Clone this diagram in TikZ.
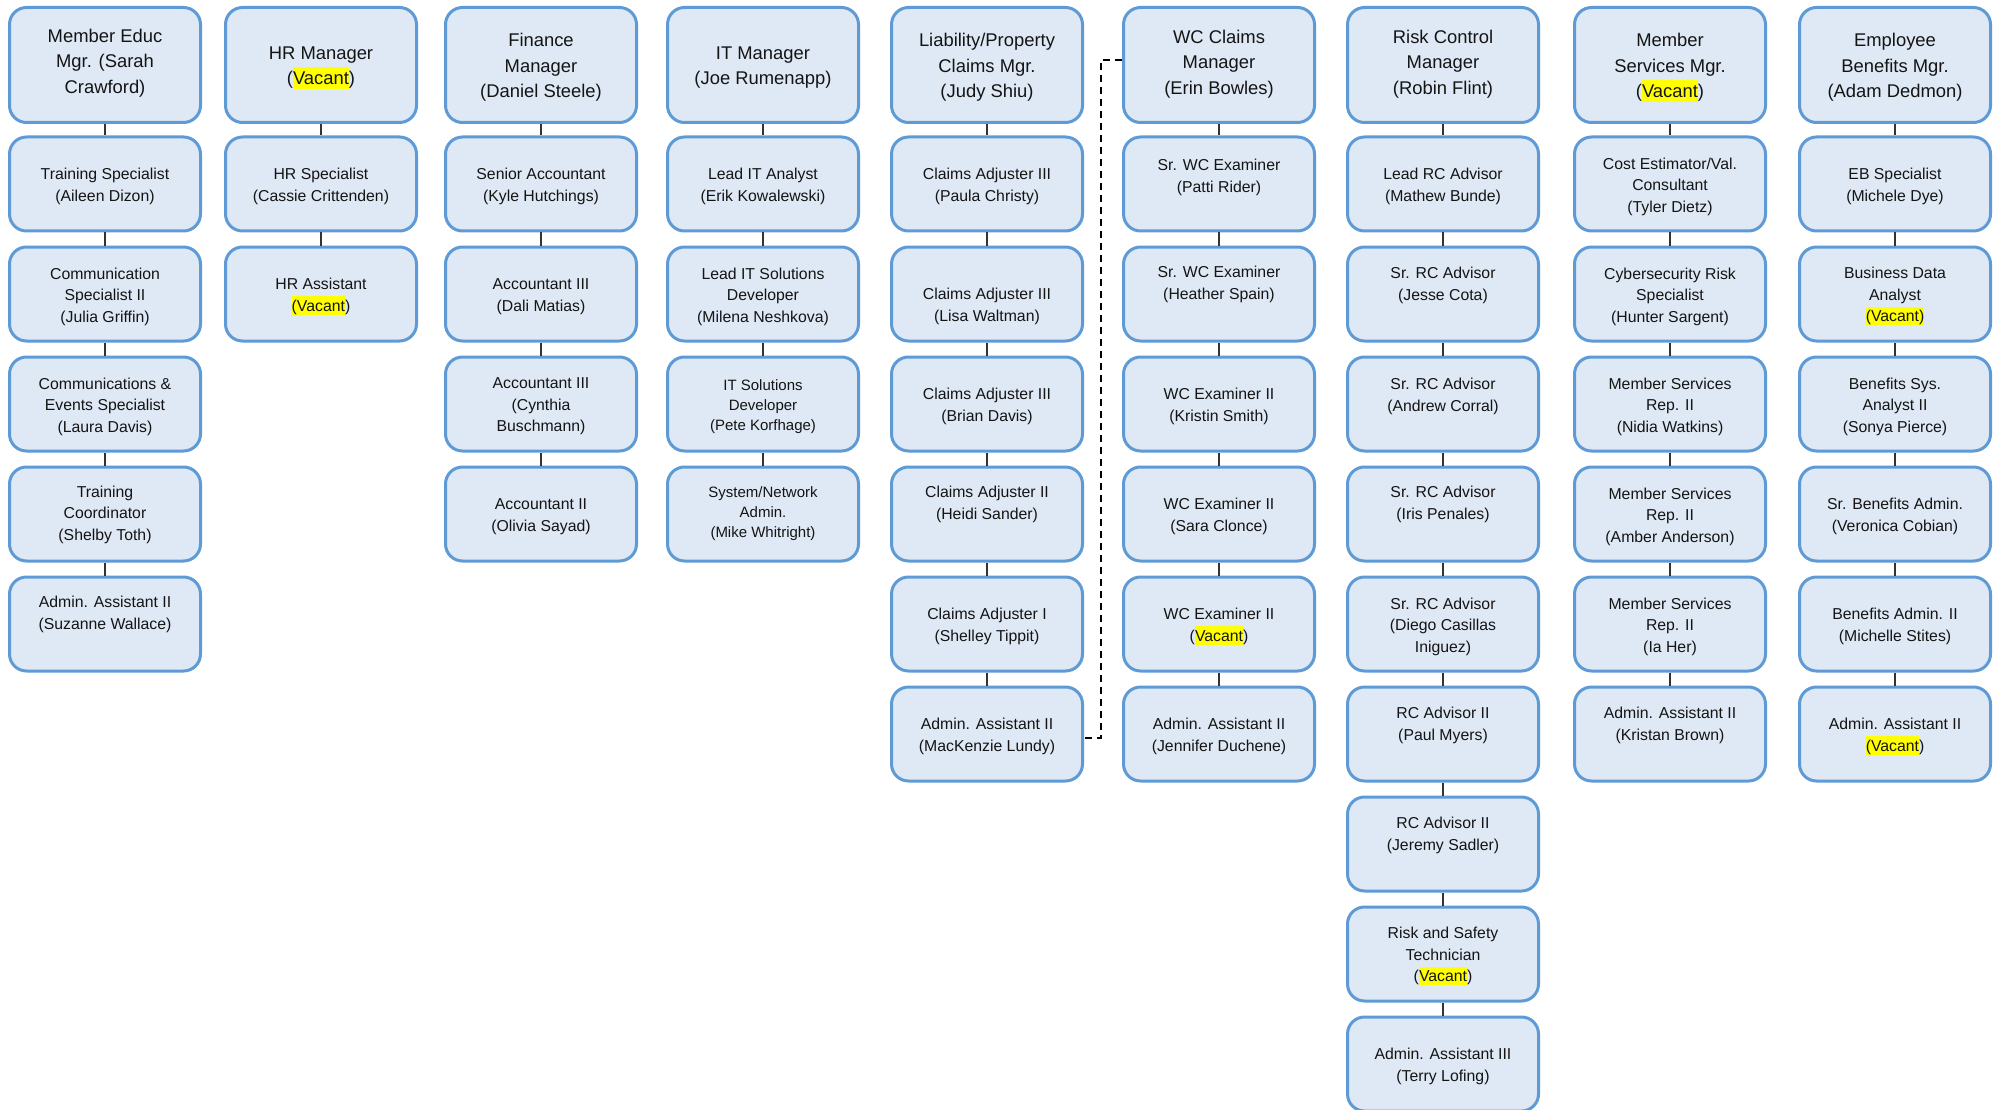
\documentclass[tikz,border=0pt]{standalone}
\usepackage{fontspec}
\setmainfont{Liberation Sans}
\definecolor{boxfill}{HTML}{DFE9F5}
\definecolor{boxline}{HTML}{5E9BD6}
\definecolor{txt}{HTML}{141414}
\definecolor{conn}{HTML}{333333}
\definecolor{hl}{HTML}{FFFF00}
\newcommand{\vac}[1]{{\setlength{\fboxsep}{0pt}\colorbox{hl}{\rule[-0.22em]{0pt}{1.2em}#1}}}
\tikzset{
 card/.style={draw=boxline, fill=boxfill, line width=3pt, rounded corners=17pt, minimum width=191pt, minimum height=94pt, inner sep=0pt},
 mgrcard/.style={card, minimum height=115pt},
 lbl/.style={align=center, text=txt, font=\fontsize{15.8}{21.5}\selectfont, inner sep=0pt},
 mgrlbl/.style={lbl, font=\fontsize{18.4}{25.5}\selectfont},
 smalltxt/.style={font=\fontsize{15}{19.7}\selectfont},
 tie/.style={draw=conn, line width=1.5pt},
 dottedlink/.style={draw=black, line width=2pt, dash pattern=on 7pt off 5pt}
}
\newcommand{\mkbox}[6][]{%
 \node[card] (#2) at (#3,#4) {};
 \node[lbl,#1] (#2t) at ([yshift=#5-2.5]#2.center) {#6};}
\newcommand{\mkmgr}[5]{%
 \node[mgrcard] (#1) at (#2,#3) {};
 \node[mgrlbl] (#1t) at ([yshift=#4-2.5]#1.center) {#5};}
\begin{document}
\begin{tikzpicture}[x=1pt,y=-1pt]
\useasboundingbox (0,0) rectangle (1997,1110);
\fill[white] (0,0) rectangle (1997,1110);
% column 1
\mkmgr{c1r1}{105}{65}{4.5}{Member Educ\\Mgr. (Sarah\\Crawford)}
\mkbox{c1r2}{105}{184}{0}{Training Specialist\\(Aileen Dizon)}
\mkbox{c1r3}{105}{294}{0}{Communication\\Specialist II\\(Julia Griffin)}
\mkbox{c1r4}{105}{404}{0}{Communications \&\\Events Specialist\\(Laura Davis)}
\mkbox{c1r5}{105}{514}{2}{Training\\Coordinator\\(Shelby Toth)}
\mkbox{c1r6}{105}{624}{12}{Admin. Assistant II\\(Suzanne Wallace)}
% column 2
\mkmgr{c2r1}{321}{65}{0}{HR Manager\\(\vac{Vacant})}
\mkbox{c2r2}{321}{184}{0}{HR Specialist\\(Cassie Crittenden)}
\mkbox{c2r3}{321}{294}{0}{HR Assistant\\\vac{(Vacant})}
% column 3
\mkmgr{c3r1}{541}{65}{0}{Finance\\Manager\\(Daniel Steele)}
\mkbox{c3r2}{541}{184}{0}{Senior Accountant\\(Kyle Hutchings)}
\mkbox{c3r3}{541}{294}{0}{Accountant III\\(Dali Matias)}
\mkbox{c3r4}{541}{404}{0}{Accountant III\\(Cynthia\\Buschmann)}
\mkbox{c3r5}{541}{514}{0}{Accountant II\\(Olivia Sayad)}
% column 4
\mkmgr{c4r1}{763}{65}{0}{IT Manager\\(Joe Rumenapp)}
\mkbox{c4r2}{763}{184}{0}{Lead IT Analyst\\(Erik Kowalewski)}
\mkbox{c4r3}{763}{294}{0}{Lead IT Solutions\\Developer\\(Milena Neshkova)}
\mkbox[smalltxt]{c4r4}{763}{404}{0}{IT Solutions\\Developer\\(Pete Korfhage)}
\mkbox[smalltxt]{c4r5}{763}{514}{3}{System/Network\\Admin.\\(Mike Whitright)}
% column 5
\mkmgr{c5r1}{987}{65}{0}{Liability/Property\\Claims Mgr.\\(Judy Shiu)}
\mkbox{c5r2}{987}{184}{0}{Claims Adjuster III\\(Paula Christy)}
\mkbox{c5r3}{987}{294}{-10}{Claims Adjuster III\\(Lisa Waltman)}
\mkbox{c5r4}{987}{404}{0}{Claims Adjuster III\\(Brian Davis)}
\mkbox{c5r5}{987}{514}{12}{Claims Adjuster II\\(Heidi Sander)}
\mkbox{c5r6}{987}{624}{0}{Claims Adjuster I\\(Shelley Tippit)}
\mkbox{c5r7}{987}{734}{0}{Admin. Assistant II\\(MacKenzie Lundy)}
% column 6
\mkmgr{c6r1}{1219}{65}{3.5}{WC Claims\\Manager\\(Erin Bowles)}
\mkbox{c6r2}{1219}{184}{9}{Sr. WC Examiner\\(Patti Rider)}
\mkbox{c6r3}{1219}{294}{12}{Sr. WC Examiner\\(Heather Spain)}
\mkbox{c6r4}{1219}{404}{0}{WC Examiner II\\(Kristin Smith)}
\mkbox{c6r5}{1219}{514}{0}{WC Examiner II\\(Sara Clonce)}
\mkbox{c6r6}{1219}{624}{0}{WC Examiner II\\(\vac{Vacant})}
\mkbox{c6r7}{1219}{734}{0}{Admin. Assistant II\\(Jennifer Duchene)}
% column 7
\mkmgr{c7r1}{1443}{65}{3.5}{Risk Control\\Manager\\(Robin Flint)}
\mkbox{c7r2}{1443}{184}{0}{Lead RC Advisor\\(Mathew Bunde)}
\mkbox{c7r3}{1443}{294}{11}{Sr. RC Advisor\\(Jesse Cota)}
\mkbox{c7r4}{1443}{404}{10}{Sr. RC Advisor\\(Andrew Corral)}
\mkbox{c7r5}{1443}{514}{12}{Sr. RC Advisor\\(Iris Penales)}
\mkbox{c7r6}{1443}{624}{0}{Sr. RC Advisor\\(Diego Casillas\\Iniguez)}
\mkbox{c7r7}{1443}{734}{11}{RC Advisor II\\(Paul Myers)}
\mkbox{c7r8}{1443}{844}{11}{RC Advisor II\\(Jeremy Sadler)}
\mkbox{c7r9}{1443}{954}{0}{Risk and Safety\\Technician\\(\vac{Vacant})}
\mkbox{c7r10}{1443}{1064}{0}{Admin. Assistant III\\(Terry Lofing)}
% column 8
\mkmgr{c8r1}{1670}{65}{0}{Member\\Services Mgr.\\(\vac{Vacant})}
\mkbox{c8r2}{1670}{184}{0}{Cost Estimator/Val.\\Consultant\\(Tyler Dietz)}
\mkbox{c8r3}{1670}{294}{0}{Cybersecurity Risk\\Specialist\\(Hunter Sargent)}
\mkbox{c8r4}{1670}{404}{0}{Member Services\\Rep. II\\(Nidia Watkins)}
\mkbox{c8r5}{1670}{514}{0}{Member Services\\Rep. II\\(Amber Anderson)}
\mkbox{c8r6}{1670}{624}{0}{Member Services\\Rep. II\\(Ia Her)}
\mkbox{c8r7}{1670}{734}{11}{Admin. Assistant II\\(Kristan Brown)}
% column 9
\mkmgr{c9r1}{1895}{65}{0}{Employee\\Benefits Mgr.\\(Adam Dedmon)}
\mkbox{c9r2}{1895}{184}{0}{EB Specialist\\(Michele Dye)}
\mkbox{c9r3}{1895}{294}{0}{Business Data\\Analyst\\\vac{(Vacant)}}
\mkbox{c9r4}{1895}{404}{0}{Benefits Sys.\\Analyst II\\(Sonya Pierce)}
\mkbox{c9r5}{1895}{514}{0}{Sr. Benefits Admin.\\(Veronica Cobian)}
\mkbox{c9r6}{1895}{624}{0}{Benefits Admin. II\\(Michelle Stites)}
\mkbox{c9r7}{1895}{734}{0}{Admin. Assistant II\\\vac{(Vacant})}
% connectors
\foreach \col/\num in {1/6,2/3,3/5,4/5,5/7,6/7,7/10,8/7,9/7}{
  \foreach \row [evaluate=\row as \prev using int(\row-1)] in {2,...,\num}{
    \draw[tie] (c\col r\prev.south) -- (c\col r\row.north);
  }
}
% dotted reporting line
\coordinate (dtop) at (1101,60);
\coordinate (dbot) at (1101,738);
\draw[dottedlink] (c6r1.west |- dtop) -- (dtop) -- (dbot) -- (c5r7.east |- dbot);
\end{tikzpicture}
\end{document}
